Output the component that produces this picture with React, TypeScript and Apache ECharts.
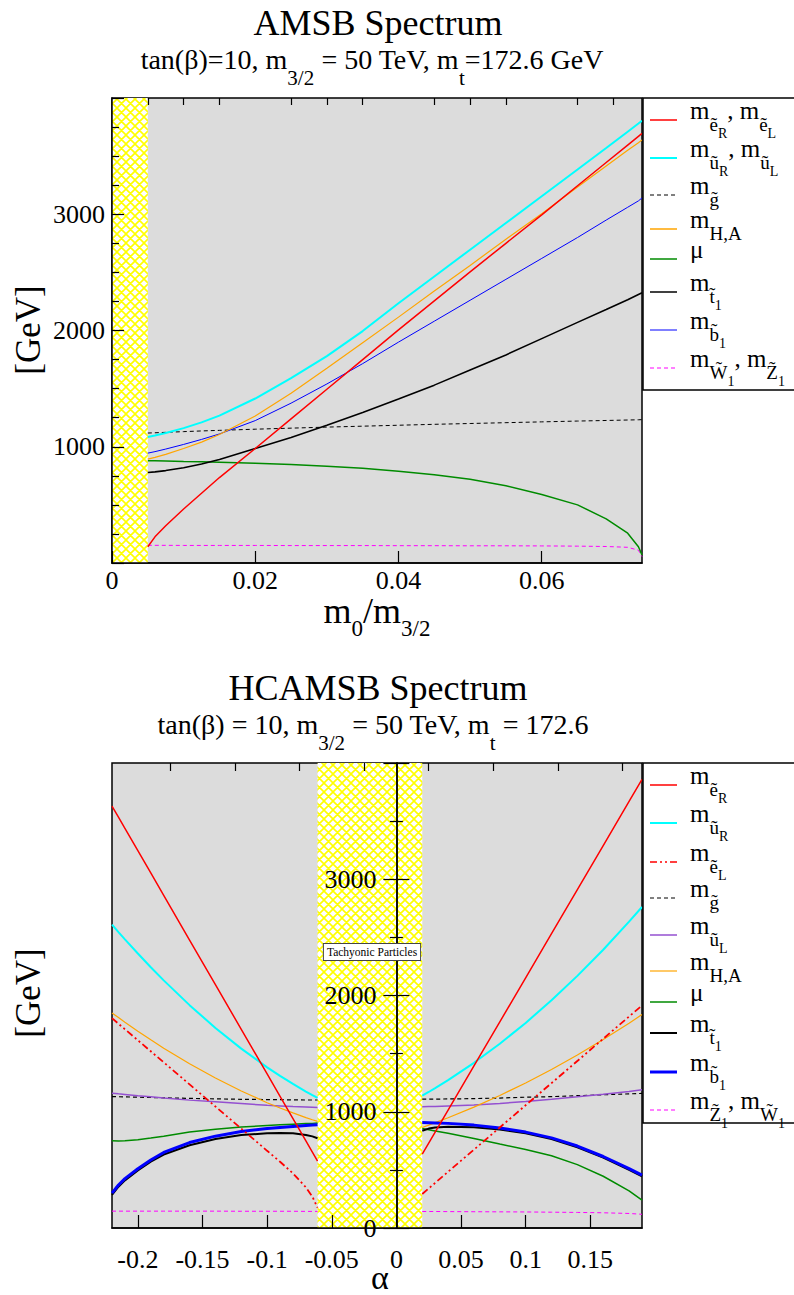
import React, { useEffect, useRef } from 'react';
import * as echarts from 'echarts';

const FONT = "'Liberation Serif', 'Times New Roman', Times, serif";

// ---------- AMSB panel data ----------
const amsbX = [0.005, 0.006, 0.0075, 0.01, 0.0125, 0.015, 0.02, 0.025, 0.03, 0.035, 0.04, 0.045, 0.05, 0.055, 0.06, 0.065, 0.069, 0.072, 0.0735, 0.074];
const amsbSelectron = [140, 225, 320, 465, 600, 735, 985, 1240, 1495, 1750, 2005, 2255, 2505, 2750, 2995, 3245, 3445, 3595, 3670, 3695];
const amsbSquark = [1084, 1097, 1118, 1160, 1210, 1268, 1415, 1590, 1780, 1995, 2235, 2465, 2695, 2925, 3155, 3385, 3570, 3710, 3780, 3804];
const amsbGluino = [1118, 1120, 1124, 1130, 1136, 1141, 1151, 1160, 1169, 1177, 1185, 1193, 1200, 1207, 1214, 1221, 1226, 1230, 1232, 1233];
const amsbHiggs = [894, 909, 935, 985, 1040, 1105, 1265, 1460, 1675, 1895, 2115, 2340, 2560, 2785, 3005, 3235, 3415, 3550, 3615, 3640];
const amsbMu = [880, 879, 877, 873, 870, 866, 857, 847, 833, 815, 790, 760, 720, 665, 590, 500, 380, 256, 140, 70];
const amsbStop = [778, 784, 795, 820, 852, 890, 985, 1080, 1185, 1295, 1410, 1530, 1660, 1790, 1930, 2070, 2180, 2265, 2310, 2325];
const amsbSbottom = [945, 958, 980, 1020, 1063, 1110, 1225, 1375, 1540, 1715, 1900, 2080, 2260, 2440, 2620, 2800, 2950, 3060, 3115, 3140];
const amsbWino = [152, 152, 152, 151, 151, 151, 151, 150, 150, 150, 149, 149, 148, 148, 147, 145, 142, 135, 110, 55];
const amsbTachyonic = [0, 0.005];
const amsbRange = [0, 0.074];
const amsbMajorX = [0, 0.02, 0.04, 0.06];
const amsbMinorX = [0.005, 0.01, 0.015, 0.025, 0.03, 0.035, 0.045, 0.05, 0.055, 0.065, 0.07];

// ---------- HCAMSB panel data ----------
const hcLeftX = [-0.22, -0.215, -0.21, -0.2, -0.19, -0.18, -0.16, -0.14, -0.12, -0.1, -0.09, -0.08, -0.07, -0.065, -0.061];
const hcRightX = [0.02, 0.025, 0.03, 0.04, 0.06, 0.08, 0.1, 0.12, 0.14, 0.16, 0.18, 0.19];
const hcSelectronRL = [3630, 3534, 3438, 3246, 3054, 2862, 2477, 2093, 1709, 1325, 1133, 941, 749, 653, 576];
const hcSelectronRR = [635, 730, 825, 1014, 1394, 1773, 2152, 2532, 2911, 3290, 3670, 3859];
const hcSquarkRL = [2609, 2545, 2483, 2361, 2243, 2130, 1917, 1721, 1543, 1382, 1308, 1239, 1174, 1143, 1119];
const hcSquarkRR = [1138, 1170, 1203, 1272, 1421, 1585, 1764, 1959, 2169, 2394, 2635, 2761];
const hcSelectronLL = [1805, 1757, 1710, 1615, 1520, 1425, 1235, 1045, 855, 664, 570, 470, 350, 270, 175];
const hcSelectronLR = [293, 340, 388, 484, 674, 865, 1056, 1246, 1437, 1628, 1819, 1914];
const hcGluinoL = [1130, 1129, 1128, 1125, 1123, 1120, 1115, 1111, 1107, 1105, 1104, 1102, 1101, 1101, 1101];
const hcGluinoR = [1108, 1108, 1109, 1110, 1113, 1118, 1125, 1130, 1138, 1146, 1154, 1158];
const hcSquarkLL = [1160, 1154, 1149, 1138, 1128, 1118, 1100, 1085, 1070, 1055, 1050, 1045, 1041, 1039, 1037];
const hcSquarkLR = [1043, 1045, 1046, 1050, 1058, 1072, 1088, 1107, 1128, 1150, 1175, 1190];
const hcHiggsL = [1850, 1810, 1770, 1693, 1619, 1547, 1413, 1290, 1178, 1078, 1032, 990, 950, 931, 917];
const hcHiggsR = [865, 885, 906, 948, 1040, 1140, 1248, 1364, 1488, 1621, 1762, 1836];
const hcMuL = [750, 749, 750, 760, 774, 790, 825, 850, 868, 882, 888, 893, 898, 900, 903];
const hcMuR = [855, 845, 835, 815, 770, 722, 675, 622, 545, 445, 320, 240];
const hcStopL = [285, 355, 410, 495, 570, 632, 712, 765, 800, 815, 818, 815, 800, 788, 772];
const hcStopR = [836, 855, 865, 872, 866, 848, 815, 765, 695, 605, 500, 445];
const hcSbottomL = [300, 370, 425, 510, 585, 650, 735, 790, 830, 855, 865, 873, 881, 885, 888];
const hcSbottomR = [908, 906, 904, 900, 885, 860, 825, 775, 705, 615, 510, 455];
const hcWinoL = [145, 145, 145, 145, 145, 145, 145, 145, 144, 144, 144, 144, 143, 143, 143];
const hcWinoR = [142, 142, 142, 141, 140, 139, 138, 136, 134, 131, 125, 118];
const hcTachyonic = [-0.061, 0.02];
const hcRange = [-0.22, 0.19];
const hcMajorX = [-0.2, -0.15, -0.1, -0.05, 0, 0.05, 0.1, 0.15];
const hcMinorX = [-0.175, -0.125, -0.075, -0.025, 0.025, 0.075, 0.125, 0.175];

// ---------- helpers ----------
const pairs = (xs: number[], ys: number[]) => xs.map((x, i) => [x, ys[i]]);
const fmt = (v: number) => String(Math.round(v * 1000) / 1000);

const GRID_W = 530;
const GRID_H = 465;

function makeHatch() {
  const s = 9;
  const c = document.createElement('canvas');
  c.width = s;
  c.height = s;
  const ctx = c.getContext('2d')!;
  ctx.fillStyle = '#ffffff';
  ctx.fillRect(0, 0, s, s);
  ctx.strokeStyle = '#ffff00';
  ctx.lineWidth = 1.6;
  ctx.beginPath();
  for (const o of [-s, 0, s]) {
    ctx.moveTo(o, 0);
    ctx.lineTo(o + s, s);
    ctx.moveTo(o + s, 0);
    ctx.lineTo(o, s);
  }
  ctx.stroke();
  return c;
}

const DASH = [4, 3];
const DASHDOT = [7, 3, 2, 3, 2, 3];

function line(xs: number[], ys: number[], color: string, width: number, type: any, xi: number, yi: number) {
  return {
    type: 'line',
    xAxisIndex: xi,
    yAxisIndex: yi,
    data: pairs(xs, ys),
    showSymbol: false,
    symbol: 'none',
    smooth: false,
    silent: true,
    lineStyle: { color, width, type },
  };
}

const richM = {
  m: { fontSize: 25, lineHeight: 25, fontFamily: FONT, verticalAlign: 'top', padding: [0, 0, 0, 0], fill: '#000' },
  s: { fontSize: 19, lineHeight: 19, fontFamily: FONT, verticalAlign: 'top', padding: [17, 0, 0, 0], fill: '#000' },
  ss: { fontSize: 14, lineHeight: 14, fontFamily: FONT, verticalAlign: 'top', padding: [28, 0, 0, 0], fill: '#000' },
};

const E = '\u1ebd';
const U = '\u0169';
const T = '\u0303';

const topLegend = [
  { text: `{m|m}{s|${E}}{ss|R}{m|, m}{s|${E}}{ss|L}`, color: '#ff0000', width: 1.5, type: 'solid' },
  { text: `{m|m}{s|${U}}{ss|R}{m|, m}{s|${U}}{ss|L}`, color: '#00ffff', width: 2, type: 'solid' },
  { text: `{m|m}{s|g${T}}`, color: '#000000', width: 1, type: DASH },
  { text: `{m|m}{s|H,A}`, color: '#ffa500', width: 1.5, type: 'solid' },
  { text: `{m|\u03bc}`, color: '#008b00', width: 1.5, type: 'solid' },
  { text: `{m|m}{s|t${T}}{ss|1}`, color: '#000000', width: 1.5, type: 'solid' },
  { text: `{m|m}{s|b${T}}{ss|1}`, color: '#0000ff', width: 1, type: 'solid' },
  { text: `{m|m}{s|W${T}}{ss|1}{m|, m}{s|Z${T}}{ss|1}`, color: '#ff00ff', width: 1, type: DASH },
];
const topLegendY = [120, 158, 195, 229, 259, 292, 330, 368];

const botLegend = [
  { text: `{m|m}{s|${E}}{ss|R}`, color: '#ff0000', width: 1.5, type: 'solid' },
  { text: `{m|m}{s|${U}}{ss|R}`, color: '#00ffff', width: 2, type: 'solid' },
  { text: `{m|m}{s|${E}}{ss|L}`, color: '#ff0000', width: 1.5, type: DASHDOT },
  { text: `{m|m}{s|g${T}}`, color: '#000000', width: 1, type: DASH },
  { text: `{m|m}{s|${U}}{ss|L}`, color: '#9450d0', width: 1.5, type: 'solid' },
  { text: `{m|m}{s|H,A}`, color: '#ffa500', width: 1.2, type: 'solid' },
  { text: `{m|\u03bc}`, color: '#008b00', width: 1.5, type: 'solid' },
  { text: `{m|m}{s|t${T}}{ss|1}`, color: '#000000', width: 2, type: 'solid' },
  { text: `{m|m}{s|b${T}}{ss|1}`, color: '#0000ff', width: 3, type: 'solid' },
  { text: `{m|m}{s|Z${T}}{ss|1}{m|, m}{s|W${T}}{ss|1}`, color: '#ff00ff', width: 1, type: DASH },
];
const botLegendY = [785, 823, 862, 898, 935, 971, 1002, 1033, 1072, 1110];

function legendGraphics(items: any[], ys: number[], box: number[]) {
  const g: any[] = [
    {
      type: 'rect',
      z: 100,
      shape: { x: box[0], y: box[1], width: box[2], height: box[3] },
      style: { fill: '#ffffff', stroke: '#000000', lineWidth: 1.5 },
    },
  ];
  items.forEach((it, i) => {
    const y = ys[i];
    g.push({
      type: 'line',
      z: 101,
      shape: { x1: 650, y1: y, x2: 677, y2: y },
      style: { stroke: it.color, lineWidth: it.width, lineDash: Array.isArray(it.type) ? it.type : null },
    });
    g.push({
      type: 'text',
      z: 101,
      x: 690,
      y: y - 22,
      style: { text: it.text, rich: richM, align: 'left', verticalAlign: 'top', fill: '#000' },
    });
  });
  return g;
}

function buildOption() {
  const hatch = makeHatch();
  const hatchColor: any = { image: hatch, repeat: 'repeat' };
  const axisLine = { show: true, onZero: false, lineStyle: { color: '#000', width: 1.5 } };
  const noLine = { show: false, onZero: false };
  const tickLine = { color: '#000', width: 1.2 };
  const lbl = { fontFamily: FONT, fontSize: 26, color: '#000' };
  // bottom panel: vertical axis drawn where alpha = 0
  const zeroOffset = -GRID_W * (0 - hcRange[0]) / (hcRange[1] - hcRange[0]);

  const xAxis: any[] = [
    {
      gridIndex: 0, type: 'value', min: amsbRange[0], max: amsbRange[1], z: 5,
      axisLine,
      axisTick: { show: true, inside: true, length: 12, customValues: amsbMajorX, lineStyle: tickLine },
      axisLabel: { show: true, customValues: amsbMajorX, formatter: fmt, margin: 6, lineHeight: 22, ...lbl },
      splitLine: { show: false },
    },
    {
      gridIndex: 0, type: 'value', min: amsbRange[0], max: amsbRange[1], z: 5,
      axisLine: noLine,
      axisTick: { show: true, inside: true, length: 7, customValues: amsbMinorX, lineStyle: tickLine },
      axisLabel: { show: false },
      splitLine: { show: false },
    },
    {
      gridIndex: 1, type: 'value', min: hcRange[0], max: hcRange[1], z: 5,
      axisLine,
      axisTick: { show: true, inside: true, length: 13, customValues: hcMajorX, lineStyle: tickLine },
      axisLabel: { show: true, customValues: hcMajorX, formatter: fmt, margin: 18, ...lbl },
      splitLine: { show: false },
    },
    {
      gridIndex: 1, type: 'value', min: hcRange[0], max: hcRange[1], z: 5,
      axisLine: noLine,
      axisTick: { show: true, inside: true, length: 8, customValues: hcMinorX, lineStyle: tickLine },
      axisLabel: { show: false },
      splitLine: { show: false },
    },
  ];

  const yAxis: any[] = [
    {
      gridIndex: 0, type: 'value', min: 0, max: 4000, interval: 1000, z: 5,
      axisLine,
      axisTick: { show: true, inside: true, length: 12, lineStyle: tickLine },
      minorTick: { show: true, splitNumber: 4, length: 7, lineStyle: tickLine },
      axisLabel: { formatter: (v: number) => (v === 0 || v === 4000 ? '' : String(v)), margin: 7, ...lbl },
      splitLine: { show: false },
    },
    {
      gridIndex: 1, type: 'value', min: 0, max: 4000, interval: 1000, z: 6,
      position: 'left', offset: zeroOffset,
      axisLine: { show: true, onZero: false, lineStyle: { color: '#000', width: 1.5 } },
      axisTick: { show: true, inside: false, length: 13, lineStyle: tickLine },
      minorTick: { show: true, splitNumber: 2, length: 6.5, lineStyle: tickLine },
      axisLabel: { formatter: (v: number) => (v === 4000 ? '' : String(v)), margin: 20, ...lbl },
      splitLine: { show: false },
    },
    {
      gridIndex: 1, type: 'value', min: 0, max: 4000, interval: 1000, z: 6,
      position: 'left', offset: zeroOffset,
      axisLine: { show: true, onZero: false, lineStyle: { color: '#000', width: 1.5 } },
      axisTick: { show: true, inside: true, length: 13, lineStyle: tickLine },
      minorTick: { show: true, splitNumber: 2, length: 6.5, lineStyle: tickLine },
      axisLabel: { show: false },
      splitLine: { show: false },
    },
  ];

  const series: any[] = [
    {
      type: 'line', xAxisIndex: 0, yAxisIndex: 0, data: [], z: 1, silent: true,
      markArea: {
        silent: true,
        itemStyle: { color: hatchColor },
        data: [[{ xAxis: amsbTachyonic[0] }, { xAxis: amsbTachyonic[1] }]],
      },
    },
    {
      type: 'line', xAxisIndex: 2, yAxisIndex: 1, data: [], z: 1, silent: true,
      markArea: {
        silent: true,
        itemStyle: { color: hatchColor },
        data: [[{ xAxis: hcTachyonic[0] }, { xAxis: hcTachyonic[1] }]],
      },
    },
    // AMSB
    line(amsbX, amsbWino, '#ff00ff', 1, DASH, 0, 0),
    line(amsbX, amsbGluino, '#000000', 1, DASH, 0, 0),
    line(amsbX, amsbMu, '#008b00', 1.5, 'solid', 0, 0),
    line(amsbX, amsbStop, '#000000', 1.6, 'solid', 0, 0),
    line(amsbX, amsbSbottom, '#0000ff', 1, 'solid', 0, 0),
    line(amsbX, amsbHiggs, '#ffa500', 1.2, 'solid', 0, 0),
    line(amsbX, amsbSelectron, '#ff0000', 1.5, 'solid', 0, 0),
    line(amsbX, amsbSquark, '#00ffff', 2, 'solid', 0, 0),
  ];

  const hc = [
    [hcWinoL, hcWinoR, '#ff00ff', 1, DASH],
    [hcGluinoL, hcGluinoR, '#000000', 1.2, DASH],
    [hcSquarkLL, hcSquarkLR, '#9450d0', 1.5, 'solid'],
    [hcMuL, hcMuR, '#008b00', 1.5, 'solid'],
    [hcHiggsL, hcHiggsR, '#ffa500', 1.2, 'solid'],
    [hcStopL, hcStopR, '#000000', 2, 'solid'],
    [hcSbottomL, hcSbottomR, '#0000ff', 3, 'solid'],
    [hcSelectronLL, hcSelectronLR, '#ff0000', 1.8, DASHDOT],
    [hcSquarkRL, hcSquarkRR, '#00ffff', 2, 'solid'],
    [hcSelectronRL, hcSelectronRR, '#ff0000', 1.5, 'solid'],
  ];
  hc.forEach(([l, r, c, w, t]: any) => {
    series.push(line(hcLeftX, l, c, w, t, 2, 1));
    series.push(line(hcRightX, r, c, w, t, 2, 1));
  });

  const subRich = {
    n: { fontSize: 28, lineHeight: 28, fontFamily: FONT, verticalAlign: 'top', padding: [0, 0, 0, 0], fill: '#000' },
    s: { fontSize: 21, lineHeight: 21, fontFamily: FONT, verticalAlign: 'top', padding: [22, 0, 0, 0], fill: '#000' },
  };
  const axRich = {
    n: { fontSize: 36, lineHeight: 36, fontFamily: FONT, verticalAlign: 'top', padding: [0, 0, 0, 0], fill: '#000' },
    s: { fontSize: 23, lineHeight: 23, fontFamily: FONT, verticalAlign: 'top', padding: [24, 0, 0, 0], fill: '#000' },
  };

  const graphic: any[] = [
    { type: 'text', z: 100, x: 378, y: 23, style: { text: 'AMSB Spectrum', fontSize: 36, lineHeight: 32, fontFamily: FONT, fill: '#000', align: 'center', verticalAlign: 'middle' } },
    { type: 'text', z: 100, x: 372, y: 45, style: { text: '{n|tan(\u03b2)=10, m}{s|3/2}{n| = 50 TeV, m}{s|t}{n|=172.6 GeV}', rich: subRich, align: 'center', verticalAlign: 'top' } },
    { type: 'text', z: 100, x: 377, y: 593, style: { text: '{n|m}{s|0}{n|/m}{s|3/2}', rich: axRich, align: 'center', verticalAlign: 'top' } },
    { type: 'text', z: 100, x: 28, y: 330, rotation: Math.PI / 2, style: { text: '[GeV]', fontSize: 35, fontFamily: FONT, fill: '#000', align: 'center', verticalAlign: 'middle' } },
    { type: 'text', z: 100, x: 378, y: 688, style: { text: 'HCAMSB Spectrum', fontSize: 36, lineHeight: 32, fontFamily: FONT, fill: '#000', align: 'center', verticalAlign: 'middle' } },
    { type: 'text', z: 100, x: 373, y: 710, style: { text: '{n|tan(\u03b2) = 10, m}{s|3/2}{n| = 50 TeV, m}{s|t}{n| = 172.6}', rich: subRich, align: 'center', verticalAlign: 'top' } },
    { type: 'text', z: 100, x: 28, y: 993, rotation: Math.PI / 2, style: { text: '[GeV]', fontSize: 35, fontFamily: FONT, fill: '#000', align: 'center', verticalAlign: 'middle' } },
    { type: 'text', z: 100, x: 380, y: 1294, style: { text: '\u03b1', fontSize: 34, fontFamily: FONT, fill: '#000', align: 'center', verticalAlign: 'bottom' } },
    { type: 'text', z: 100, x: 372, y: 952, style: { text: 'Tachyonic Particles', fontSize: 11.5, fontFamily: FONT, fill: '#000', align: 'center', verticalAlign: 'middle', backgroundColor: '#ffffff', borderColor: '#444444', borderWidth: 1, padding: [2, 3] } },
    ...legendGraphics(topLegend, topLegendY, [643, 98, 160, 292]),
    ...legendGraphics(botLegend, botLegendY, [643, 763, 160, 360]),
  ];

  return {
    animation: false,
    backgroundColor: '#ffffff',
    textStyle: { fontFamily: FONT },
    grid: [
      { left: 112, top: 98, width: GRID_W, height: GRID_H, show: true, backgroundColor: '#dcdcdc', borderColor: '#000', borderWidth: 1.5, containLabel: false },
      { left: 112, top: 763, width: GRID_W, height: GRID_H, show: true, backgroundColor: '#dcdcdc', borderColor: '#000', borderWidth: 1.5, containLabel: false },
    ],
    xAxis,
    yAxis,
    series,
    graphic,
  };
}

export default function App() {
  const ref = useRef<HTMLDivElement>(null);
  useEffect(() => {
    document.body.style.margin = '0';
    const chart = echarts.init(ref.current!, null, { renderer: 'svg' });
    chart.setOption(buildOption() as any);
    return () => chart.dispose();
  }, []);
  return <div ref={ref} style={{ width: 794, height: 1295 }} />;
}
